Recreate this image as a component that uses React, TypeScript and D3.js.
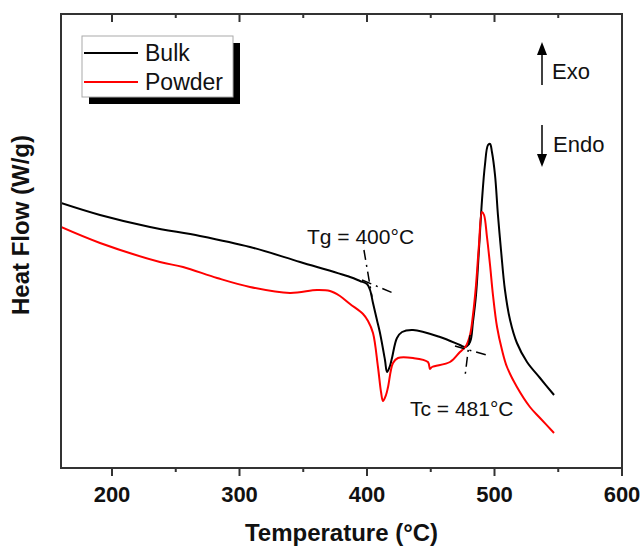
import React from "react";
import * as d3 from "d3";

// Bulk DSC curve: temperature (°C) and heat flow (W/g, arbitrary offset)
const bulkT = [160, 190.6, 229.8, 269.0, 308.2, 347.5, 386.7, 394.5, 400.0, 402.4, 404.7, 407.8, 410.2, 414.1, 415.7, 418.0, 419.6, 423.5, 427.5, 436.1, 457.3, 472.9, 476.9, 480.8, 483.1, 485.5, 487.8, 490.2, 492.5, 494.9, 496.5, 498.0, 500.4, 502.7, 505.1, 508.2, 512.2, 517.6, 525.5, 535.7, 546.7];
const bulkHF = [2.65, 2.53, 2.41, 2.32, 2.21, 2.06, 1.91, 1.87, 1.84, 1.78, 1.65, 1.48, 1.35, 1.08, 0.96, 1.02, 1.10, 1.30, 1.36, 1.38, 1.31, 1.23, 1.21, 1.26, 1.46, 1.73, 2.18, 2.68, 3.03, 3.23, 3.24, 3.16, 2.93, 2.53, 2.18, 1.78, 1.48, 1.25, 1.06, 0.90, 0.73];

// Powder DSC curve
const powderT = [160, 190.6, 237.6, 255.7, 282.4, 308.2, 339.6, 360.8, 371.0, 378.8, 386.7, 396.9, 400.8, 404.7, 408.6, 411.0, 412.5, 414.9, 416.5, 420.4, 424.3, 436.1, 447.8, 449.4, 451.0, 465.1, 472.9, 477.6, 480.8, 483.1, 485.5, 487.8, 490.2, 491.8, 494.1, 496.5, 498.8, 502.0, 505.9, 509.8, 517.6, 527.8, 535.7, 546.7];
const powderHF = [2.41, 2.25, 2.06, 2.01, 1.90, 1.81, 1.75, 1.78, 1.77, 1.72, 1.64, 1.54, 1.47, 1.35, 1.01, 0.76, 0.67, 0.73, 0.81, 1.05, 1.10, 1.10, 1.06, 0.99, 1.01, 1.06, 1.16, 1.22, 1.33, 1.53, 1.83, 2.23, 2.56, 2.53, 2.31, 2.03, 1.73, 1.41, 1.18, 1.01, 0.81, 0.61, 0.50, 0.35];

// Tangent construction lines [T1, HF1, T2, HF2]
const tgTangents = [
  [397.6, 2.18, 403.9, 1.71],
  [396.1, 1.88, 420.4, 1.75],
];
const tcTangents = [
  [469.0, 1.22, 496.5, 1.12],
  [480.8, 1.33, 476.9, 0.92],
];

const xTicks = [200, 300, 400, 500, 600];
const xMinorTicks = [250, 350, 450, 550];
const seriesNames = ["Bulk", "Powder"];
const seriesColors = ["#000000", "#ff0000"];

const W = 643;
const H = 548;
const left = 61, right = 622, top = 14, bottom = 468;

export default function App() {
  const x = d3.scaleLinear().domain([160, 600]).range([left, right]);
  const y = d3.scaleLinear().domain([0, 4.54]).range([bottom, top]);
  const line = d3
    .line<[number, number]>()
    .x((d) => x(d[0]))
    .y((d) => y(d[1]))
    .curve(d3.curveCatmullRom.alpha(0.5));

  const bulk: [number, number][] = bulkT.map((t, i) => [t, bulkHF[i]]);
  const powder: [number, number][] = powderT.map((t, i) => [t, powderHF[i]]);

  const font = "'Liberation Sans', Arial, sans-serif";
  const axisColor = "#333";

  return (
    <svg width={W} height={H} style={{ position: "absolute", left: 0, top: 0 }} fontFamily={font}>
      <rect x={0} y={0} width={W} height={H} fill="#fff" />
      <defs>
        <clipPath id="plotclip">
          <rect x={left} y={top} width={right - left} height={bottom - top} />
        </clipPath>
      </defs>

      <g clipPath="url(#plotclip)">
        <path d={line(bulk) || ""} fill="none" stroke={seriesColors[0]} strokeWidth={2} />
        <path d={line(powder) || ""} fill="none" stroke={seriesColors[1]} strokeWidth={2} />
        {[...tgTangents, ...tcTangents].map((l, i) => (
          <line
            key={i}
            x1={x(l[0])}
            y1={y(l[1])}
            x2={x(l[2])}
            y2={y(l[3])}
            stroke="#000"
            strokeWidth={1.5}
            strokeDasharray="10,5,2,5"
          />
        ))}
      </g>

      {/* frame */}
      <rect x={left} y={top} width={right - left} height={bottom - top} fill="none" stroke={axisColor} strokeWidth={2} />

      {/* ticks */}
      {xTicks.map((t) => (
        <g key={t}>
          <line x1={x(t)} x2={x(t)} y1={bottom} y2={bottom + 8} stroke={axisColor} strokeWidth={2} />
          <line x1={x(t)} x2={x(t)} y1={top} y2={top + 8} stroke={axisColor} strokeWidth={2} />
          <text x={x(t)} y={bottom + 34} textAnchor="middle" fontSize={22} fontWeight="bold" fill="#111">
            {t}
          </text>
        </g>
      ))}
      {xMinorTicks.map((t) => (
        <g key={t}>
          <line x1={x(t)} x2={x(t)} y1={bottom} y2={bottom + 4} stroke={axisColor} strokeWidth={2} />
          <line x1={x(t)} x2={x(t)} y1={top} y2={top + 4} stroke={axisColor} strokeWidth={2} />
        </g>
      ))}

      {/* axis titles */}
      <text x={(left + right) / 2} y={541} textAnchor="middle" fontSize={24} fontWeight="bold" fill="#111">
        Temperature (°C)
      </text>
      <text
        transform={`translate(29,225) rotate(-90)`}
        textAnchor="middle"
        fontSize={24}
        fontWeight="bold"
        fill="#111"
      >
        Heat Flow (W/g)
      </text>

      {/* legend */}
      <rect x={89} y={43} width={151} height={61} fill="#000" />
      <rect x={82} y={36} width={151} height={61} fill="#fff" stroke="#aaa" strokeWidth={1} />
      {seriesNames.map((n, i) => (
        <g key={n}>
          <line x1={84} x2={138} y1={53 + i * 29} y2={53 + i * 29} stroke={seriesColors[i]} strokeWidth={2} />
          <text x={145} y={61 + i * 29} fontSize={23} fill="#111">
            {n}
          </text>
        </g>
      ))}

      {/* Exo / Endo */}
      <line x1={542} x2={542} y1={85} y2={52} stroke="#000" strokeWidth={1.5} />
      <path d="M537,55 L542,42 L547,55 Z" fill="#000" />
      <text x={552} y={79} fontSize={22} fill="#111">Exo</text>
      <line x1={542} x2={542} y1={125} y2={157} stroke="#000" strokeWidth={1.5} />
      <path d="M537,154 L542,167 L547,154 Z" fill="#000" />
      <text x={553} y={152} fontSize={22} fill="#111">Endo</text>

      {/* annotations */}
      <text x={307} y={244} fontSize={21} fill="#111">Tg = 400°C</text>
      <text x={410} y={416} fontSize={21} fill="#111">Tc = 481°C</text>
    </svg>
  );
}
